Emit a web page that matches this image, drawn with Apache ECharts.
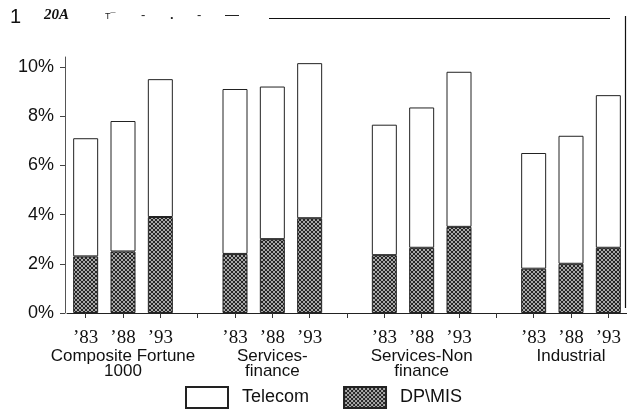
<!DOCTYPE html>
<html>
<head>
<meta charset="utf-8">
<script src="https://cdn.jsdelivr.net/npm/echarts@6/dist/echarts.min.js"></script>
<style>html,body{margin:0;padding:0;background:#fff;}#c{width:627px;height:409px;}</style>
</head>
<body>
<div id="c"></div>
<script>
// Categories: 4 groups of 3 years, with empty slots between groups
const years = ["’83","’88","’93","","’83","’88","’93","","’83","’88","’93","","’83","’88","’93"];
const groupLabels = ["","Composite Fortune\n1000","","","","Services-\nfinance","","","","Services-Non\nfinance","","","","Industrial",""];
const dpmis   = [2.3, 2.5, 3.9, "-", 2.4, 3.0, 3.85, "-", 2.35, 2.65, 3.5, "-", 1.8, 2.0, 2.65];
const telecom = [4.8, 5.3, 5.6, "-", 6.7, 6.2, 6.3,  "-", 5.3,  5.7,  6.3, "-", 4.7, 5.2, 6.2];
const yTicks = [0, 2, 4, 6, 8, 10];
const seriesNames = ["Telecom", "DP\\MIS"];

// hatch pattern
const pc = document.createElement('canvas');
pc.width = 4; pc.height = 4;
const px = pc.getContext('2d');
px.fillStyle = '#a8a8a8'; px.fillRect(0,0,4,4);
px.fillStyle = '#262626';
for (let i = 0; i < 4; i++) { px.fillRect(i,i,1,1); px.fillRect(3-i,i,1,1); }
const hatch = { image: pc, repeat: 'repeat' };

const sans = '"Liberation Sans", Arial, sans-serif';
const serif = '"Liberation Serif", "Times New Roman", serif';

const chart = echarts.init(document.getElementById('c'), null, { renderer: 'canvas' });
chart.setOption({
  backgroundColor: '#fff',
  animation: false,
  grid: { left: 67, right: 0, top: 57, bottom: 96, containLabel: false },
  legend: {
    left: 185, top: 386, padding: 0,
    itemWidth: 42, itemHeight: 21, itemGap: 34,
    icon: 'rect',
    data: seriesNames,
    textStyle: { fontFamily: sans, fontSize: 18, color: '#111', padding: [0,0,0,9] }
  },
  xAxis: {
    type: 'category',
    data: years,
    axisLine: { lineStyle: { color: '#222', width: 1 } },
    axisTick: { show: true, alignWithLabel: true, interval: 0, length: 5, lineStyle: { color: '#333' } },
    axisLabel: {
      interval: 0,
      margin: 14,
      hideOverlap: false,
      formatter: function (v, i) {
        let s = '{y|' + v + '}';
        const g = groupLabels[i];
        if (g) s += '\n' + g.split('\n').map(t => '{g|' + t + '}').join('\n');
        return s;
      },
      rich: {
        y: { fontFamily: serif, fontSize: 19, lineHeight: 22, color: '#111' },
        g: { fontFamily: sans, fontSize: 17, lineHeight: 15, color: '#111' }
      }
    }
  },
  yAxis: {
    type: 'value',
    min: 0, max: 10.4, interval: 2,
    offset: 2,
    splitLine: { show: false },
    axisLine: { show: true, lineStyle: { color: '#555', width: 1 } },
    axisTick: { show: true, length: 5, customValues: yTicks, lineStyle: { color: '#444' } },
    axisLabel: {
      customValues: yTicks,
      margin: 11,
      fontFamily: sans, fontSize: 18, color: '#111',
      formatter: v => v + '%'
    }
  },
  series: [
    {
      name: seriesNames[1], type: 'bar', stack: 't', barWidth: 25,
      data: dpmis,
      itemStyle: { color: hatch, borderColor: '#222', borderWidth: 1 }
    },
    {
      name: seriesNames[0], type: 'bar', stack: 't', barWidth: 25,
      data: telecom,
      itemStyle: { color: '#fff', borderColor: '#222', borderWidth: 1 }
    }
  ],
  graphic: [
    { type: 'text', left: 10, top: 7, style: { text: '1', font: '20px ' + sans, fill: '#111' } },
    { type: 'text', left: 44, top: 8, style: { text: '20A', font: 'italic bold 15px ' + serif, fill: '#111' } },
    { type: 'text', left: 105, top: 12, style: { text: 'T¯', font: '9px ' + sans, fill: '#222' } },
    { type: 'text', left: 141, top: 9, style: { text: '-', font: '13px ' + sans, fill: '#222' } },
    { type: 'text', left: 170, top: 9, style: { text: '.', font: 'bold 13px ' + sans, fill: '#222' } },
    { type: 'text', left: 197, top: 9, style: { text: '-', font: '13px ' + sans, fill: '#222' } },
    { type: 'text', left: 225, top: 8, style: { text: '—', font: '14px ' + sans, fill: '#222' } },
    { type: 'line', shape: { x1: 269, y1: 18.5, x2: 610, y2: 18.5 }, style: { stroke: '#111', lineWidth: 1 } },
    { type: 'line', shape: { x1: 625.5, y1: 16, x2: 625.5, y2: 308 }, style: { stroke: '#111', lineWidth: 1.2 } }
  ]
});
</script>
</body>
</html>
